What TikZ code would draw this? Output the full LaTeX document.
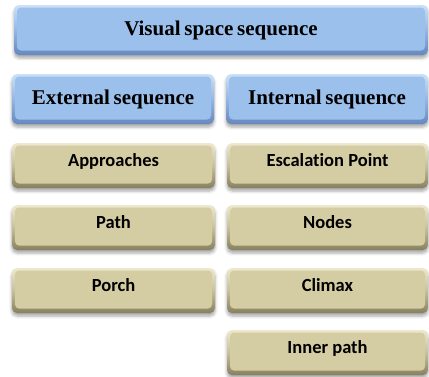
\documentclass[tikz,border=0pt]{standalone}
\usepackage{fontspec}
\setmainfont{Liberation Serif}
\newfontfamily\labelfont[Ligatures=NoCommon]{Carlito}
\usetikzlibrary{shadows.blur}

\definecolor{blueface}{HTML}{9CC0EC}
\definecolor{bluerim}{HTML}{6688BE}
\definecolor{bluehi}{HTML}{CCE0F7}
\definecolor{tanface}{HTML}{D4CCA2}
\definecolor{tanrim}{HTML}{878060}
\definecolor{tanhi}{HTML}{EEE8CE}

\newcommand\headfont{\fontsize{21}{21}\selectfont\bfseries\spaceskip=0.18em\relax}
\newcommand\itemfont{\labelfont\fontsize{18.5}{18.5}\selectfont\bfseries}

\tikzset{
  % bevelled button: shaded rim with a flat inset face
  bevel/.style n args={3}{
    rectangle, rounded corners=5pt, inner sep=0pt,
    top color=#3, bottom color=#2, middle color=#1!85!#2,
    blur shadow={shadow xshift=0pt, shadow yshift=-3pt,
                 shadow blur radius=3pt, shadow opacity=35},
    path picture={
      \fill[#1, rounded corners=4pt]
        ([shift={(3pt,4.5pt)}]path picture bounding box.south west)
        rectangle ([shift={(-3pt,-2.5pt)}]path picture bounding box.north east);
    }
  },
  headbox/.style={bevel={blueface}{bluerim}{bluehi},
    minimum height=50pt, text height=30.5pt, text depth=19.5pt, font=\headfont},
  itembox/.style={bevel={tanface}{tanrim}{tanhi},
    minimum height=45pt, text height=23pt, text depth=22pt, font=\itemfont},
}

\begin{document}
\begin{tikzpicture}[x=1pt,y=-1pt]
  \useasboundingbox (0,0) rectangle (429,376);

  \node[headbox, minimum width=414pt] (vss) at (221,30) {Visual space sequence};
  \node[headbox, minimum width=202pt] (ext) at (113,99) {External sequence};
  \node[headbox, minimum width=202pt] (int) at (327,99) {Internal sequence};

  \node[itembox, minimum width=203pt] (appr) at (113.5,165.5) {Approaches};
  \node[itembox, minimum width=203pt] (path) at (113.5,227.5) {Path};
  \node[itembox, minimum width=203pt] (porch) at (113.5,290.5) {Porch};

  \node[itembox, minimum width=201pt] (esc) at (327.5,165.5) {Escalation Point};
  \node[itembox, minimum width=201pt] (nodes) at (327.5,227.5) {Nodes};
  \node[itembox, minimum width=201pt] (climax) at (327.5,290.5) {Climax};
  \node[itembox, minimum width=201pt] (inner) at (327.5,352.5) {Inner path};
\end{tikzpicture}
\end{document}
